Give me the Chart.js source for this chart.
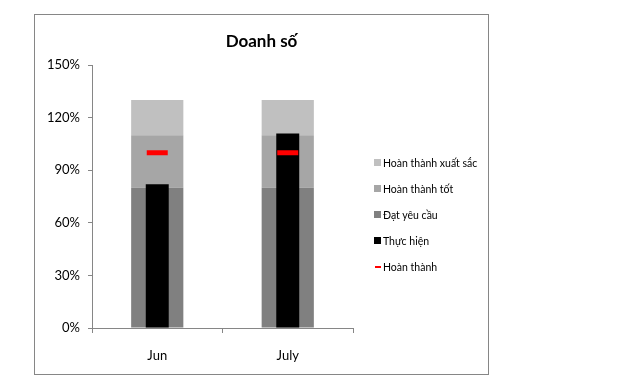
<!DOCTYPE html>
<html>
<head>
<meta charset="utf-8">
<script src="https://cdn.jsdelivr.net/npm/chart.js"></script>
<style>
  html, body { margin: 0; padding: 0; background: #ffffff; }
  body { width: 633px; height: 386px; position: relative; overflow: hidden; }
  #frame {
    position: absolute; left: 34px; top: 14px;
    width: 453px; height: 359px;
    border: 1px solid #868686;
  }
  #chart { position: absolute; left: 0; top: 0; }
  #title {
    position: absolute; left: 0; top: 15px; width: 453px;
    text-align: center; font-family: Lato, "Open Sans", sans-serif;
    font-size: 17px; font-weight: bold; line-height: 22px; color: #000;
  }
  #legend { position: absolute; left: 0; top: 0; font-family: Lato, "Open Sans", sans-serif; font-size: 10.5px; color: #000; }
  .legend-item { position: absolute; left: 339px; white-space: nowrap; height: 14px; line-height: 14px; }
  .legend-box { position: absolute; left: 0; top: 3px; width: 7px; height: 7px; }
  .legend-dash { position: absolute; left: 1px; top: 6px; width: 6px; height: 2px; }
  .legend-text { position: absolute; left: 9px; top: 0; }
</style>
</head>
<body>
<div id="frame">
  <canvas id="chart" width="453" height="359"></canvas>
  <div id="title">Doanh số</div>
  <div id="legend"></div>
</div>
<script>
// Data
const categories = ['Jun', 'July'];
const datYeuCau = [0.8, 0.8];       // 0 -> 80%
const hoanThanhTot = [0.3, 0.3];    // 80 -> 110%
const xuatSac = [0.2, 0.2];         // 110 -> 130%
const thucHien = [0.82, 1.11];
const hoanThanh = [1.0, 1.0];
const yTicks = [0, 0.3, 0.6, 0.9, 1.2, 1.5];

const FONT = 'Lato, "Open Sans", sans-serif';
Chart.defaults.font.family = FONT;
Chart.defaults.color = '#000000';

const axisGray = '#868686';

// background bands share these
const band = { stack: 'bg', grouped: false, categoryPercentage: 1, barPercentage: 0.4 };

const chart = new Chart(document.getElementById('chart'), {
  type: 'bar',
  data: {
    labels: categories,
    datasets: [
      { ...band, label: 'Đạt yêu cầu', data: datYeuCau, backgroundColor: '#808080', order: 2 },
      { ...band, label: 'Hoàn thành tốt', data: hoanThanhTot, backgroundColor: '#a6a6a6', order: 3 },
      { ...band, label: 'Hoàn thành xuất sắc', data: xuatSac, backgroundColor: '#c0c0c0', order: 4 },
      {
        label: 'Thực hiện',
        data: thucHien,
        backgroundColor: '#000000',
        stack: 'actual',
        grouped: false,
        categoryPercentage: 1,
        barPercentage: 0.176,
        order: 1
      },
      {
        type: 'line',
        label: 'Hoàn thành',
        data: hoanThanh,
        stack: 'target',
        showLine: false,
        pointStyle: 'line',
        pointRadius: 10.5,
        pointHoverRadius: 10.5,
        borderColor: '#ff0000',
        backgroundColor: '#ff0000',
        pointBorderWidth: 5,
        borderWidth: 5,
        order: 0
      }
    ]
  },
  options: {
    responsive: false,
    animation: false,
    layout: { padding: { left: 0, right: 135, top: 50, bottom: 0 } },
    plugins: {
      legend: { display: false },
      tooltip: { enabled: false },
      title: { display: false }
    },
    scales: {
      x: {
        stacked: false,
        offset: true,
        grid: {
          offset: true,
          drawOnChartArea: false,
          drawTicks: true,
          tickLength: 5,
          color: axisGray
        },
        border: { color: axisGray },
        ticks: { font: { size: 13 }, color: '#000000', padding: 15 },
        afterFit(scale) { scale.height = 46; }
      },
      y: {
        stacked: true,
        min: 0,
        max: 1.5,
        afterBuildTicks(scale) {
          scale.ticks = yTicks.map(v => ({ value: v }));
        },
        grid: {
          drawOnChartArea: false,
          drawTicks: true,
          tickLength: 4,
          color: axisGray
        },
        border: { color: axisGray },
        ticks: {
          font: { size: 13 },
          color: '#000000',
          padding: 8,
          callback: (v) => Math.round(v * 100) + '%'
        },
        afterFit(scale) { scale.width = 57; }
      }
    }
  }
});

// HTML legend, built from the datasets (top row = top band)
function buildLegend() {
  const legend = document.getElementById('legend');
  const order = ['Hoàn thành xuất sắc', 'Hoàn thành tốt', 'Đạt yêu cầu', 'Thực hiện', 'Hoàn thành'];
  const rowTops = [141, 167, 193, 219, 245];
  order.forEach((name, i) => {
    const ds = chart.data.datasets.find(d => d.label === name);
    const item = document.createElement('div');
    item.className = 'legend-item';
    item.style.top = rowTops[i] + 'px';
    const marker = document.createElement('span');
    marker.className = ds.type === 'line' ? 'legend-dash' : 'legend-box';
    marker.style.background = ds.backgroundColor;
    const text = document.createElement('span');
    text.className = 'legend-text';
    text.textContent = ds.label;
    item.appendChild(marker);
    item.appendChild(text);
    legend.appendChild(item);
  });
}
buildLegend();
</script>
</body>
</html>
